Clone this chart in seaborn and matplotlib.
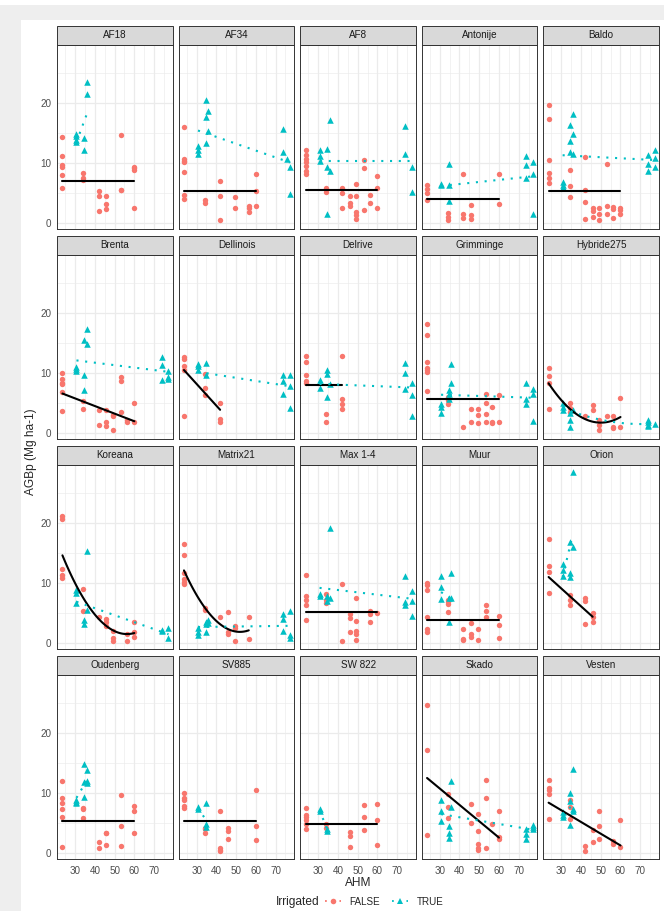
import numpy as np
import pandas as pd
import matplotlib
matplotlib.use("Agg")
import matplotlib.pyplot as plt
import seaborn as sns
from matplotlib.lines import Line2D
from matplotlib.patches import Rectangle

# ---- data ----
varieties = ["AF18", "AF34", "AF8", "Antonije", "Baldo",
             "Brenta", "Dellinois", "Delrive", "Grimminge", "Hybride275",
             "Koreana", "Matrix21", "Max 1-4", "Muur", "Orion",
             "Oudenberg", "SV885", "SW 822", "Skado", "Vesten"]

# AHM levels of the non irrigated (FALSE) and irrigated (TRUE) plots
ahm_false = [23.6, 34.2, 41.9, 45.9, 49.3, 53.3, 56.4, 60.0]
ahm_true = [30.7, 34.6, 35.8, 73.9, 75.6, 77.3]

# AGBp per AHM level, one list per variety and group
af18_false = [[14.3, 11.1, 9.6, 9.4, 8.0, 5.8], [8.4, 7.5, 7.2], [5.4, 4.5, 2.0], [4.6, 3.2, 2.4], [], [14.6, 5.6, 5.5], [], [9.4, 9.1, 8.9, 2.5]]
af18_true = [[14.8, 14.5, 13.9, 13.5], [14.2, 12.2], [23.5, 21.4], [], [], []]
af34_false = [[16.0, 10.6, 10.3, 10.1, 8.5, 4.7, 4.0], [3.9, 3.3], [7.0, 4.6, 0.6], [], [4.4, 2.5], [], [2.9, 2.5, 1.8], [8.1, 5.3, 2.8]]
af34_true = [[12.9, 12.2, 11.5], [20.4, 17.7, 13.3], [18.6, 15.3], [15.7, 11.8], [10.6], [9.4, 4.8]]
af8_false = [[12.1, 11.3, 10.6, 10.1, 9.5, 8.7, 8.2], [5.8, 5.2], [5.8, 5.0, 2.6], [4.5, 3.3, 2.9], [6.6, 4.6, 1.9, 1.4, 0.7], [10.5, 9.1, 2.2], [4.7, 3.4], [7.9, 5.8, 2.5]]
af8_true = [[12.1, 11.2, 10.3], [12.3, 9.4, 1.5], [17.2, 8.6], [16.2, 11.5], [], [9.4, 5.2]]
antonije_false = [[6.4, 5.7, 5.1, 3.9], [1.7, 1.1, 0.6], [8.1, 1.5, 0.9], [3.0, 1.3, 0.7], [], [], [], [8.2, 3.2]]
antonije_true = [[6.5, 6.3], [9.9, 6.3, 3.7], [], [11.1, 9.6, 7.5], [], [10.1, 8.1, 1.6]]
baldo_false = [[19.6, 17.3, 10.5, 8.4, 7.5, 6.7], [8.9, 6.2, 4.4], [11.0, 5.6, 3.5, 0.7], [2.5, 2.0, 1.0], [2.6, 1.5, 0.6], [9.8, 2.9, 1.5], [2.7, 2.3, 0.8], [2.5, 2.2, 1.6]]
baldo_true = [[6.8, 6.4, 6.0], [16.4, 13.7, 11.8], [18.1, 14.8, 11.5], [11.3, 9.8, 8.6], [], [12.1, 10.8, 9.4]]
brenta_false = [[10.0, 9.0, 8.4, 8.1, 6.8, 3.7], [5.3, 4.0], [3.8, 1.4], [3.8, 1.8, 1.2], [3.0, 2.8, 0.6], [9.4, 8.7, 3.6], [2.2, 1.8], [5.1, 1.9]]
brenta_true = [[11.0, 10.6, 10.4], [15.5, 9.7, 7.2], [17.3, 14.8], [12.7, 11.4, 8.9], [], [10.4, 9.4, 9.0]]
dellinois_false = [[12.6, 12.3, 11.2, 10.5, 2.9], [9.9, 7.6, 6.4], [5.1, 2.4, 1.9], [], [], [], [], []]
dellinois_true = [[11.5, 11.1, 10.5], [11.6, 9.7], [], [9.7, 8.6, 6.5], [], [9.7, 7.9, 4.2]]
delrive_false = [[12.9, 11.9, 9.6, 8.6, 8.3], [3.2, 1.8], [12.9, 5.7, 4.8, 4.0], [], [], [], [], []]
delrive_true = [[8.8, 7.6], [10.5, 9.8, 6.0], [8.1], [11.7, 10.0, 7.4], [], [8.3, 6.4, 2.8]]
grimminge_false = [[18.2, 16.4, 11.8, 10.9, 10.5, 10.1, 7.0], [6.1, 5.5, 4.9], [1.1], [4.0, 1.8], [4.0, 3.0, 1.7], [6.5, 5.1, 3.2, 1.9], [4.3, 1.9, 1.7], [6.4, 1.9]]
grimminge_true = [[4.9, 4.3, 3.4], [7.2, 6.5, 5.7], [11.5, 8.3], [8.3, 5.7, 4.8], [], [7.4, 6.5, 2.1]]
hybride_false = [[10.8, 9.5, 8.3, 4.0], [5.0, 4.2, 3.6], [2.9], [4.7, 3.9], [2.2, 1.3, 0.6], [2.9], [2.8, 1.1, 0.8], [5.9, 1.1]]
hybride_true = [[5.0, 4.4, 3.9], [3.3, 2.2, 1.0], [3.9], [1.8, 1.2, 2.2, 1.4], [], [1.6]]
koreana_false = [[21.1, 20.7, 12.3, 11.4, 10.9], [9.0, 5.3], [4.3], [4.0, 3.6, 2.9], [2.1, 0.8, 0.4], [], [1.6, 0.4], [3.6, 1.8, 1.1]]
koreana_true = [[8.9, 8.3, 6.7], [3.9, 3.2], [15.3, 5.6], [2.2, 2.1], [], [2.5, 0.9]]
matrix21_false = [[16.5, 14.6, 11.6, 10.6, 10.2, 9.9], [5.8, 5.6], [4.3], [5.2, 1.9, 1.5], [2.9, 2.5, 0.4], [], [4.4, 0.7], []]
matrix21_true = [[2.5, 1.9, 1.3], [3.6, 3.2, 1.9], [3.9, 3.3], [4.8, 4.1, 2.1], [], [5.4, 1.4, 0.8]]
max14_false = [[11.3, 7.9, 7.2, 6.3, 3.8], [8.2, 7.2, 6.7], [9.8, 0.4], [4.8, 4.2, 1.8], [7.6, 3.7, 2.0, 1.5, 0.5], [], [5.3, 4.8, 3.6], [5.0]]
max14_true = [[8.2, 7.8], [7.8, 7.1], [19.2, 7.5], [11.1, 6.9, 6.4], [], [8.6, 7.1, 4.6]]
muur_false = [[10.0, 9.7, 8.9, 4.3, 2.3, 1.8], [7.2, 6.9, 6.6, 5.2], [2.3, 0.7, 0.6], [3.3, 1.6, 1.1], [2.3, 0.6], [6.4, 5.3, 4.3], [], [4.6, 3.1, 0.9]]
muur_true = [[11.1, 9.3, 7.4], [3.6, 7.5], [11.7, 7.5], [], [], []]
orion_false = [[17.3, 12.9, 11.9, 8.3], [8.0, 7.2, 6.3], [7.5, 7.1, 3.2], [5.0, 4.4, 3.5], [], [], [], []]
orion_true = [[13.1, 12.1, 11.2], [16.8, 11.7, 11.0], [28.4, 16.0], [], [], []]
oudenberg_false = [[12.0, 9.2, 8.4, 7.3, 6.1, 1.1], [7.5, 7.4, 5.8], [1.9, 0.9], [3.4, 3.3, 1.3], [], [9.6, 4.5, 1.2], [], [7.8, 7.0, 3.4]]
oudenberg_true = [[8.9, 8.5, 8.3], [14.9, 9.3, 11.9], [13.9, 11.6, 12.0], [], [], []]
sv885_false = [[10.0, 9.2, 8.8, 7.8, 7.5], [4.2, 4.0, 3.3], [7.1, 0.9, 0.6, 0.3], [4.2, 3.7, 2.3], [], [], [], [10.5, 4.5, 2.2]]
sv885_true = [[7.7, 7.4], [8.4, 4.9, 4.4], [], [], [], []]
sw822_false = [[7.5, 6.4, 6.0, 5.6, 4.8, 4.0], [4.9, 4.2], [], [3.5, 2.8, 1.1], [], [8.0, 6.0, 3.8], [], [8.1, 5.5, 1.3]]
sw822_true = [[7.4, 7.1], [4.1, 3.7], [], [], [], []]
skado_false = [[24.7, 17.2, 3.0], [9.8, 7.7, 5.9], [], [8.1, 5.0], [6.6, 3.7, 1.6, 0.9, 0.5], [12.2, 9.2, 0.9], [4.9], [7.0, 2.7, 2.4]]
skado_true = [[8.9, 7.1, 5.3], [4.5, 3.3, 2.6], [12.0, 7.7], [4.0, 3.2, 2.3], [], [4.7, 4.4, 4.0]]
vesten_false = [[12.2, 10.9, 10.5, 9.9, 5.7], [8.9, 7.7, 5.7], [1.2, 0.3], [3.8, 1.9], [7.1, 4.5, 2.3], [], [2.0, 1.5], [5.6, 1.1]]
vesten_true = [[6.9, 6.4, 6.0], [10.0, 8.7, 4.7], [14.0, 7.3, 7.1], [], [], []]

false_values = [af18_false, af34_false, af8_false, antonije_false, baldo_false,
                brenta_false, dellinois_false, delrive_false, grimminge_false, hybride_false,
                koreana_false, matrix21_false, max14_false, muur_false, orion_false,
                oudenberg_false, sv885_false, sw822_false, skado_false, vesten_false]
true_values = [af18_true, af34_true, af8_true, antonije_true, baldo_true,
               brenta_true, dellinois_true, delrive_true, grimminge_true, hybride_true,
               koreana_true, matrix21_true, max14_true, muur_true, orion_true,
               oudenberg_true, sv885_true, sw822_true, skado_true, vesten_true]

# fitted values at start, middle and end of each group's AHM range
fit_false = [[7.1, 7.1, 7.1], [5.3, 5.3, 5.3], [5.5, 5.5, 5.5], [4.0, 4.0, 4.0], [5.4, 5.4, 5.4],
             [6.6, 4.3, 2.0], [10.5, 7.2, 3.9], [8.0, 8.0, 8.0], [5.7, 5.7, 5.7], [8.3, 2.4, 2.7],
             [14.6, 4.1, 1.7], [12.1, 3.7, 2.15], [5.2, 5.2, 5.2], [3.9, 3.9, 3.9], [11.0, 7.7, 4.4],
             [5.3, 5.3, 5.3], [5.4, 5.4, 5.4], [4.9, 4.9, 4.9], [12.5, 7.55, 2.6], [8.4, 4.85, 1.3]]
fit_true = [[13.5, 15.75, 18.0], [15.4, 12.75, 10.1], [10.3, 10.3, 10.3], [6.2, 7.0, 7.8], [11.3, 10.9, 10.5],
            [12.1, 11.15, 10.2], [10.2, 9.0, 7.8], [8.2, 7.9, 7.6], [6.4, 6.15, 5.9], [4.2, 2.0, 1.6],
            [6.9, 4.2, 1.5], [2.7, 2.8, 2.9], [9.2, 8.3, 7.4], [8.5, 7.95, 7.4], [11.0, 14.5, 18.0],
            [9.2, 10.6, 12.0], [7.5, 6.55, 5.6], [7.2, 5.55, 3.9], [6.5, 5.2, 3.9], [6.5, 7.25, 8.0]]

rows = []
for v, fv, tv in zip(varieties, false_values, true_values):
    for x, ys in zip(ahm_false, fv):
        for y in ys:
            rows.append((v, x, y, "FALSE"))
    for x, ys in zip(ahm_true, tv):
        for y in ys:
            rows.append((v, x, y, "TRUE"))
df = pd.DataFrame(rows, columns=["variety", "AHM", "AGBp", "Irrigated"])

# ---- plotting ----
sns.set_style("white")
plt.rcParams["font.family"] = ["Liberation Sans", "DejaVu Sans"]

red = "#F8766D"
teal = "#00BFC4"

W, H = 664, 911
fig, axes = plt.subplots(4, 5, figsize=(W / 100, H / 100), dpi=100, sharex=True, sharey=True)
fig.set_facecolor("#EEEEEE")
fig.patches.append(Rectangle((21 / W, 0), 1, (H - 20) / H, transform=fig.transFigure,
                             facecolor="white", edgecolor="none", zorder=-10))
fig.patches.append(Rectangle((0, (H - 5) / H), 1, 5 / H, transform=fig.transFigure,
                             facecolor="white", edgecolor="none", zorder=-10))
fig.subplots_adjust(left=57.3 / W, right=659 / W, top=1 - 45 / H, bottom=1 - 859.3 / H,
                    wspace=0.052, hspace=0.1394)

strip_h = 19.3 / 184.3
for i, (ax, v) in enumerate(zip(axes.flat, varieties)):
    sub = df[df["variety"] == v]
    sf = sub[sub["Irrigated"] == "FALSE"]
    st = sub[sub["Irrigated"] == "TRUE"]
    sns.scatterplot(data=sf, x="AHM", y="AGBp", color=red, marker="o", s=15,
                    linewidth=0, ax=ax, zorder=3)
    sns.scatterplot(data=st, x="AHM", y="AGBp", color=teal, marker="^", s=22,
                    linewidth=0, ax=ax, zorder=3)

    x0, x1 = sf["AHM"].min(), sf["AHM"].max()
    c = np.polyfit([x0, (x0 + x1) / 2, x1], fit_false[i], 2)
    xs = np.linspace(x0, x1, 60)
    ax.plot(xs, np.polyval(c, xs), color="black", lw=1.5, zorder=4)

    x0, x1 = st["AHM"].min(), st["AHM"].max()
    c = np.polyfit([x0, (x0 + x1) / 2, x1], fit_true[i], 2)
    xs = np.linspace(x0, x1, 60)
    ax.plot(xs, np.polyval(c, xs), color=teal, lw=1.5, linestyle=(0, (1, 3.2)), zorder=4)

    ax.set_xlim(21.0, 79.5)
    ax.set_ylim(-1.0, 29.6)
    ax.set_xticks([30, 40, 50, 60, 70])
    ax.set_xticks([25, 35, 45, 55, 65, 75], minor=True)
    ax.set_yticks([0, 10, 20])
    ax.set_yticks([5, 15, 25], minor=True)
    ax.grid(which="major", color="#EBEBEB", lw=0.9)
    ax.grid(which="minor", color="#EBEBEB", lw=0.45)
    ax.set_axisbelow(True)
    ax.tick_params(which="major", length=3, width=0.6, color="#333333",
                   labelsize=7.1, labelcolor="#4D4D4D", pad=1.5)
    ax.tick_params(which="minor", length=0)
    for sp in ax.spines.values():
        sp.set_color("#333333")
        sp.set_linewidth(0.7)
    ax.set_xlabel("")
    ax.set_ylabel("")

    ax.add_patch(Rectangle((0, 1), 1, strip_h, transform=ax.transAxes, clip_on=False,
                           facecolor="#D9D9D9", edgecolor="#333333", lw=0.7))
    ax.text(0.5, 1 + strip_h / 2, v, transform=ax.transAxes, ha="center", va="center",
            fontsize=7.1, color="#1A1A1A")

fig.text(358 / W, 1 - 882.5 / H, "AHM", ha="center", va="center", fontsize=8.6)
fig.text(31 / W, 1 - 452 / H, "AGBp (Mg ha-1)", ha="center", va="center",
         rotation=90, fontsize=8.6)

fig.text(276 / W, 1 - 901.7 / H, "Irrigated", ha="left", va="center", fontsize=8.6)
handles = [Line2D([], [], color=red, marker="o", markersize=4, lw=1.3,
                  linestyle=(0, (1, 3)), markeredgewidth=0),
           Line2D([], [], color=teal, marker="^", markersize=4.6, lw=1.3,
                  linestyle=(0, (1, 3)), markeredgewidth=0)]
fig.legend(handles, ["FALSE", "TRUE"], loc="center left", ncol=2, frameon=False,
           bbox_to_anchor=(325 / W, 1 - 901.7 / H), fontsize=7.1, handlelength=1.6,
           handletextpad=0.9, columnspacing=1.2, borderaxespad=0, borderpad=0)

fig.savefig("out.png", dpi=100, facecolor=fig.get_facecolor())
